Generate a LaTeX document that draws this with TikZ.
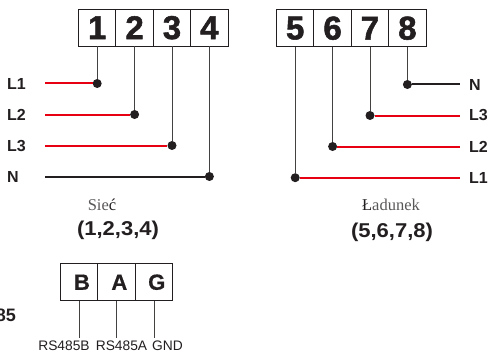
\documentclass[tikz,border=0pt]{standalone}
\usepackage{fontspec}
\setmainfont{Liberation Serif}
\setsansfont{Liberation Sans}
\usetikzlibrary{positioning}
\definecolor{inkblack}{HTML}{231F20}
\definecolor{wirered}{HTML}{E60012}
\tikzstyle{termblock} = [draw=inkblack, line width=0.9pt, minimum width=37.4pt, minimum height=37.4pt, inner sep=0pt, outer sep=0pt, text=inkblack, font=\sffamily\bfseries\addfontfeature{FakeBold=1.6}\fontsize{33}{33}\selectfont]
\tikzstyle{busblock} = [termblock, font=\sffamily\bfseries\addfontfeature{FakeBold=0.5}\fontsize{22}{22}\selectfont]
\tikzstyle{joint} = [circle, fill=inkblack, inner sep=0pt, minimum size=9pt]
\tikzstyle{drop} = [draw=inkblack!85, line width=0.95pt]
\tikzstyle{redline} = [draw=wirered, line width=2pt]
\tikzstyle{blackline} = [draw=inkblack, line width=2pt]
\tikzstyle{phase} = [text=inkblack, inner sep=0pt, font=\sffamily\bfseries\fontsize{16}{16}\selectfont]
\tikzstyle{group} = [text=inkblack, inner sep=0pt, font=\sffamily\bfseries\addfontfeature{FakeStretch=1.1}\fontsize{20}{20}\selectfont]
\tikzstyle{caption} = [text=inkblack!75, inner sep=0pt, font=\fontsize{16.5}{16.5}\selectfont]
\tikzstyle{pinname} = [text=inkblack, inner sep=0pt, font=\sffamily\fontsize{13.8}{13.8}\selectfont]
\newcommand{\termblock}[2]{node (t#1) [termblock] {#2}}
\newcommand{\busblock}[2]{node (b#1) [busblock] {\hspace{5.5pt}#2}}
\newcommand{\joint}[1]{node (j#1) [joint] {}}

\begin{document}
\begin{tikzpicture}[x=1pt,y=-1pt]
\useasboundingbox (0,0) rectangle (490,353);
% mains side
\path (97.2,27.7) \termblock{1}{1};
\path (t1)+(37.4,0) \termblock{2}{2};
\path (t2)+(37.4,0) \termblock{3}{3};
\path (t3)+(37.4,0) \termblock{4}{4};
\path (t1)+(0,55.8) \joint{1};
\path (t2)+(0,86.8) \joint{2};
\path (t3)+(0,117.8) \joint{3};
\path (t4)+(0,148.8) \joint{4};
\path (j1)+(-52,0) coordinate (a1);
\path (j2)+(-89.4,0) coordinate (a2);
\path (j3)+(-126.8,0) coordinate (a3);
\path (j4)+(-164.2,0) coordinate (a4);
\path (7,84) node (la1) [phase, anchor=west] {L1};
\path (7,115) node (la2) [phase, anchor=west] {L2};
\path (7,146) node (la3) [phase, anchor=west] {L3};
\path (7,177) node (la4) [phase, anchor=west] {N};
\path [drop] (t1.south) -- (j1);
\path [drop] (t2.south) -- (j2);
\path [drop] (t3.south) -- (j3);
\path [drop] (t4.south) -- (j4);
\path [redline] (a1) -- (j1);
\path [redline] (a2) -- (j2);
\path [redline] (a3) -- (j3);
\path [blackline] (a4) -- (j4);
\path (102,205) node (siec) [caption] {Sie\textcolor{inkblack}{ć}};
\path (118,230) node (gr1) [group] {(1,2,3,4)};
% load side
\path (295.2,28.2) \termblock{5}{5};
\path (t5)+(37.4,0) \termblock{6}{6};
\path (t6)+(37.4,0) \termblock{7}{7};
\path (t7)+(37.4,0) \termblock{8}{8};
\path (t5)+(0,149.5) \joint{5};
\path (t6)+(0,118.3) \joint{6};
\path (t7)+(0,87.3) \joint{7};
\path (t8)+(0,56.3) \joint{8};
\path (460,177.7) coordinate (a5);
\path (460,146.5) coordinate (a6);
\path (460,115.5) coordinate (a7);
\path (460,84.5) coordinate (a8);
\path (469,177.7) node (la5) [phase, anchor=west] {L1};
\path (469,146.5) node (la6) [phase, anchor=west] {L2};
\path (469,115.5) node (la7) [phase, anchor=west] {L3};
\path (469,84.5) node (la8) [phase, anchor=west] {N};
\path [drop] (t5.south) -- (j5);
\path [drop] (t6.south) -- (j6);
\path [drop] (t7.south) -- (j7);
\path [drop] (t8.south) -- (j8);
\path [redline] (j5) -- (a5);
\path [redline] (j6) -- (a6);
\path [redline] (j7) -- (a7);
\path [blackline] (j8) -- (a8);
\path (391,205) node (lad) [caption] {\textcolor{inkblack}{Ł}adunek};
\path (392,232) node (gr2) [group] {(5,6,7,8)};
% bus
\path (79.2,282.2) \busblock{1}{B};
\path (b1)+(37.4,0) \busblock{2}{A};
\path (b2)+(37.4,0) \busblock{3}{G};
\path (16,315) node (rs) [phase, anchor=east, font=\sffamily\bfseries\fontsize{18}{18}\selectfont] {85};
\path (64,346) node (p1) [pinname] {RS485B};
\path (121.5,346) node (p2) [pinname] {RS485A};
\path (167.5,346) node (p3) [pinname] {GND};
\path (b1.south)+(0,37) coordinate (e1);
\path (b2.south)+(0,37) coordinate (e2);
\path (b3.south)+(0,37) coordinate (e3);
\path [drop] (b1.south) -- (e1);
\path [drop] (b2.south) -- (e2);
\path [drop] (b3.south) -- (e3);
\end{tikzpicture}
\end{document}
